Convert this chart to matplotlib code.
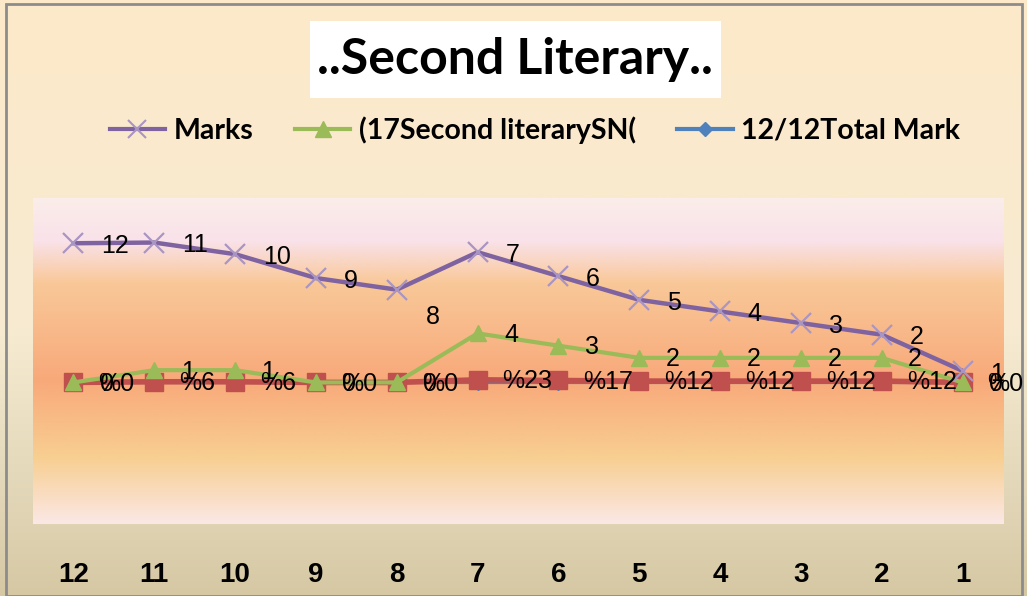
import numpy as np
import matplotlib
matplotlib.use("Agg")
import matplotlib.pyplot as plt
from matplotlib.colors import LinearSegmentedColormap
from matplotlib.lines import Line2D
from matplotlib.patches import Rectangle

# ---------------- data ----------------
categories = ["12", "11", "10", "9", "8", "7", "6", "5", "4", "3", "2", "1"]
marks = [12, 11, 10, 9, 8, 7, 6, 5, 4, 3, 2, 1]
second_literary = [0, 1, 1, 0, 0, 4, 3, 2, 2, 2, 2, 0]
total_mark = [0, 0, 0, 0, 0, 0, 0, 0, 0, 0, 0, 0]
percent = [0.0, 0.06, 0.06, 0.0, 0.0, 0.23, 0.17, 0.12, 0.12, 0.12, 0.12, 0.0]
percent_labels = ["%0", "%6", "%6", "%0", "%0", "%23", "%17", "%12", "%12", "%12", "%12", "%0"]

title = "..Second Literary.."
legend_names = ["Marks", "(17Second literarySN(", "12/12Total Mark"]

# ---------------- style ----------------
W, H, DPI = 1027, 596, 100
PURPLE = "#7f63a1"
PURPLE_MK = "#a995c4"
GREEN = "#9bbb59"
BLUE = "#4f81bd"
RED = "#c0504d"
LABEL_FONT = ["Liberation Sans", "DejaVu Sans"]
TITLE_FONT = ["Lato", "DejaVu Sans"]

fig = plt.figure(figsize=(W / DPI, H / DPI), dpi=DPI)

# figure background gradient
bg = fig.add_axes([0, 0, 1, 1], zorder=-10)
bg_cmap = LinearSegmentedColormap.from_list(
    "bg", [(0.0, "#fde9c9"), (0.55, "#f7ebd2"), (0.86, "#e0d4b5"), (1.0, "#d6c8a3")])
bg.imshow(np.linspace(0, 1, 256).reshape(-1, 1), cmap=bg_cmap, aspect="auto",
          extent=[0, 1, 0, 1], origin="upper")
bg.set_xlim(0, 1); bg.set_ylim(0, 1)
bg.axis("off")
# outer border
fig.patches.append(Rectangle((6 / W, 0), (1022 - 6) / W, (H - 4) / H,
                             transform=fig.transFigure, fill=False,
                             edgecolor="#8c8c8c", linewidth=2, zorder=-5))

# plot area
left, right, top, bottom = 33, 1003, 198, 524
ax = fig.add_axes([left / W, 1 - bottom / H, (right - left) / W, (bottom - top) / H])
ax_cmap = LinearSegmentedColormap.from_list(
    "pa", [(0.0, "#fbede9"), (0.13, "#f9e2ea"), (0.26, "#f9c898"),
           (0.56, "#f8a97a"), (0.80, "#f8cf92"), (1.0, "#fbe8e6")])
ax.imshow(np.linspace(0, 1, 256).reshape(-1, 1), cmap=ax_cmap, aspect="auto",
          extent=[0, 1, 0, 1], origin="upper", transform=ax.transAxes, zorder=0)
for s in ax.spines.values():
    s.set_visible(False)

x = np.arange(len(categories))
# stacked line chart (cumulative)
base_red = np.array(total_mark, dtype=float) + np.array(percent)
cum_green = base_red + np.array(second_literary)
cum_marks = cum_green + np.array(marks)

ax.plot(x, total_mark, color=BLUE, lw=3, marker="D", ms=8, zorder=2)
ax.plot(x, base_red, color=RED, lw=4, marker="s", ms=13, mfc=RED, mec=RED, zorder=3)
ax.plot(x, cum_green, color=GREEN, lw=3, marker="^", ms=12, mfc=GREEN, mec=GREEN, zorder=4)
ax.plot(x, cum_marks, color=PURPLE, lw=3.2, marker="x", ms=14, mew=1.6,
        mec=PURPLE_MK, zorder=5)

lab_kw = dict(textcoords="offset points", fontsize=18, family=LABEL_FONT,
              color="black", ha="left", va="center", zorder=10, annotation_clip=False)
for i in range(len(x)):
    ax.annotate(percent_labels[i], (x[i], base_red[i]), xytext=(18, -1), **lab_kw)
    ax.annotate(str(second_literary[i]), (x[i], cum_green[i]), xytext=(19, -1), **lab_kw)
    mark_off = (21, -20) if categories[i] == "8" else (20, -2)
    ax.annotate(str(marks[i]), (x[i], cum_marks[i]), xytext=mark_off, **lab_kw)

ax.set_xlim(-0.5, len(x) - 0.5)
ax.set_ylim(-12.2, 15.9)
ax.set_yticks([])
ax.set_xticks(x)
ax.set_xticklabels(categories, fontsize=20, fontweight="bold", family=LABEL_FONT)
ax.tick_params(axis="x", length=0, pad=27)

# title box
fig.patches.append(Rectangle((310 / W, 1 - 98 / H), 411 / W, 77 / H,
                             transform=fig.transFigure, facecolor="white",
                             edgecolor="none", zorder=1))
fig.text(515 / W, 1 - 59 / H, title, ha="center", va="center", fontsize=36,
         fontweight="bold", family=TITLE_FONT, zorder=2)

# legend
handles = [
    Line2D([], [], color=PURPLE, lw=3, marker="x", ms=13, mew=1.5, mec=PURPLE_MK),
    Line2D([], [], color=GREEN, lw=3, marker="^", ms=12),
    Line2D([], [], color=BLUE, lw=3, marker="D", ms=7),
]
fig.legend(handles, legend_names, loc="center", bbox_to_anchor=(535 / W, 1 - 130 / H),
           ncol=3, frameon=False, handlelength=1.95, handletextpad=0.3,
           columnspacing=1.45, prop={"family": TITLE_FONT, "weight": "bold", "size": 20.5})

fig.savefig("out.png", dpi=DPI)
